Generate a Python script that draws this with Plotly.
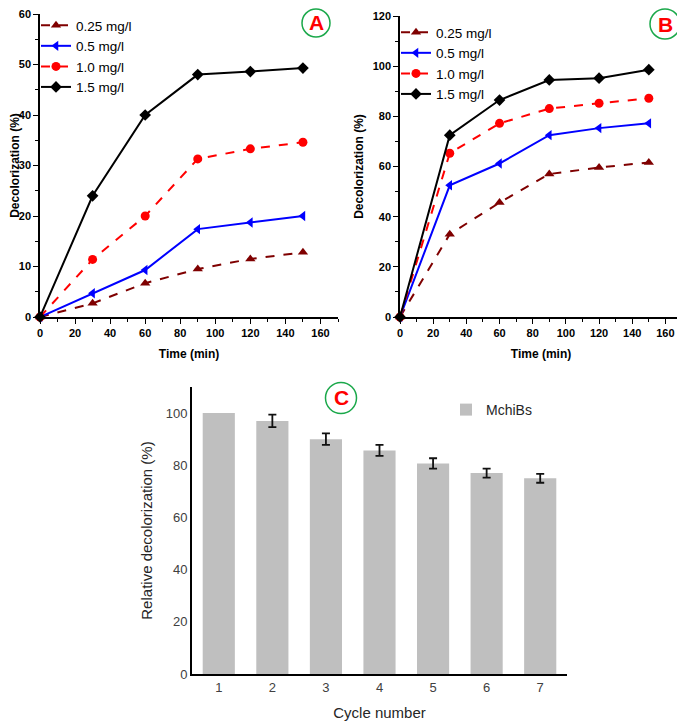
import plotly.graph_objects as go

# page body has an 8px margin: figure is sized to fit the window exactly
OFF = 8
W, H = 685 - OFF, 723 - OFF

time_min = [0, 30, 60, 90, 120, 150]
series_names = ["0.25 mg/l", "0.5 mg/l", "1.0 mg/l", "1.5 mg/l"]

a_025 = [0, 2.7, 6.7, 9.5, 11.5, 12.8]
a_05 = [0, 4.7, 9.3, 17.4, 18.7, 20.0]
a_10 = [0, 11.4, 20.0, 31.3, 33.3, 34.6]
a_15 = [0, 24.0, 40.0, 48.0, 48.6, 49.3]

b_025 = [0, 33.0, 45.6, 57.0, 59.6, 61.6]
b_05 = [0, 52.5, 61.2, 72.5, 75.3, 77.2]
b_10 = [0, 65.3, 77.2, 83.1, 85.2, 87.2]
b_15 = [0, 72.5, 86.5, 94.5, 95.2, 98.6]

cycles = [1, 2, 3, 4, 5, 6, 7]
relative = [100, 97.0, 90.0, 85.7, 80.7, 77.0, 75.0]
err_cycles = [2, 3, 4, 5, 6, 7]
err_values = [97.0, 90.0, 85.7, 80.7, 77.0, 75.0]
rel_err = [2.4, 2.2, 2.1, 2.0, 1.7, 1.7]

styles = [
    dict(color="#7f0000", dash="dash", symbol="triangle-up"),
    dict(color="#0000ff", dash="solid", symbol="triangle-left"),
    dict(color="#ff0000", dash="dash", symbol="circle"),
    dict(color="#000000", dash="solid", symbol="diamond"),
]

def px_x(p):
    return (p - OFF) / W

def px_y(p):
    return 1 - (p - OFF) / H

fig = go.Figure()

for data, xa, ya, leg in [((a_025, a_05, a_10, a_15), "x", "y", "legend"),
                          ((b_025, b_05, b_10, b_15), "x2", "y2", "legend2")]:
    for name, vals, st in zip(series_names, data, styles):
        fig.add_trace(go.Scatter(
            x=time_min, y=vals, name=name, xaxis=xa, yaxis=ya, legend=leg,
            mode="lines+markers", cliponaxis=False,
            line=dict(color=st["color"], dash=st["dash"], width=2),
            marker=dict(symbol=st["symbol"], size=9, color=st["color"]),
        ))

fig.add_trace(go.Bar(
    x=cycles, y=relative, name="MchiBs", xaxis="x3", yaxis="y3", legend="legend3",
    marker=dict(color="#bfbfbf", line=dict(width=0)), width=0.6,
))
fig.add_trace(go.Scatter(
    x=err_cycles, y=err_values, xaxis="x3", yaxis="y3", mode="markers",
    marker=dict(size=0.1, color="rgba(0,0,0,0)"), showlegend=False, hoverinfo="skip",
    error_y=dict(type="data", array=rel_err, color="#111111", thickness=1.8, width=4),
))

bold_tick = dict(family="Liberation Sans", size=11, color="black", weight="bold")
title_font = dict(family="Liberation Sans", size=12, color="black", weight="bold")

line_axis = dict(showline=True, linecolor="black", linewidth=1.5, ticks="outside",
                 ticklen=5, tickwidth=1.2, tickcolor="black", showgrid=False,
                 zeroline=False, mirror=False, tickfont=bold_tick, automargin=False,
                 ticklabeloverflow="allow")

fig.update_layout(
    width=W, height=H, margin=dict(l=0, r=0, t=0, b=0),
    paper_bgcolor="white", plot_bgcolor="white", showlegend=True,
    xaxis=dict(domain=[px_x(40), px_x(338)], range=[0, 170], anchor="y",
               tickvals=[0, 20, 40, 60, 80, 100, 120, 140, 160],
               minor=dict(ticklen=3, dtick=10, tick0=0, ticks="outside", tickcolor="black"),
               title=dict(text="Time (min)", font=title_font, standoff=12), **line_axis),
    yaxis=dict(domain=[px_y(317), px_y(14)], range=[0, 60], anchor="x",
               tickvals=[0, 10, 20, 30, 40, 50, 60],
               minor=dict(ticklen=3, dtick=5, tick0=0, ticks="outside", tickcolor="black"),
               title=dict(text="Decolorization (%)", font=title_font, standoff=6), **line_axis),
    xaxis2=dict(domain=[px_x(400), px_x(682)], range=[0, 170], anchor="y2",
                tickvals=[0, 20, 40, 60, 80, 100, 120, 140, 160],
                minor=dict(ticklen=3, dtick=10, tick0=0, ticks="outside", tickcolor="black"),
                title=dict(text="Time (min)", font=title_font, standoff=12), **line_axis),
    yaxis2=dict(domain=[px_y(317), px_y(16)], range=[0, 120], anchor="x2",
                tickvals=[0, 20, 40, 60, 80, 100, 120],
                minor=dict(ticklen=3, dtick=10, tick0=0, ticks="outside", tickcolor="black"),
                title=dict(text="Decolorization (%)", font=title_font, standoff=6), **line_axis),
    xaxis3=dict(domain=[px_x(192), px_x(567)], range=[0.5, 7.5], anchor="y3",
                tickvals=cycles, showline=True, linecolor="black", linewidth=2,
                ticks="", showgrid=False, zeroline=False, automargin=False,
                tickfont=dict(family="Liberation Sans", size=13, color="#404040"),
                title=dict(text="Cycle number", font=dict(family="Liberation Sans", size=15, color="#262626"), standoff=14)),
    yaxis3=dict(domain=[px_y(674), px_y(387)], range=[0, 110], anchor="x3",
                tickvals=[0, 20, 40, 60, 80, 100], showline=True, linecolor="black", linewidth=2,
                ticks="", showgrid=False, zeroline=False, automargin=False,
                tickfont=dict(family="Liberation Sans", size=13, color="#404040"),
                title=dict(text="Relative decolorization (%)", font=dict(family="Liberation Sans", size=15, color="#262626"), standoff=9)),
    legend=dict(x=px_x(36), y=px_y(10), xanchor="left", yanchor="top",
                bgcolor="rgba(0,0,0,0)", font=dict(family="Liberation Sans", size=13.5, color="black"),
                tracegroupgap=0, itemwidth=30),
    legend2=dict(x=px_x(396), y=px_y(17), xanchor="left", yanchor="top",
                 bgcolor="rgba(0,0,0,0)", font=dict(family="Liberation Sans", size=13.5, color="black"),
                 tracegroupgap=0, itemwidth=30),
    legend3=dict(x=px_x(446), y=px_y(394), xanchor="left", yanchor="top",
                 bgcolor="rgba(0,0,0,0)", font=dict(family="Liberation Sans", size=14, color="#262626")),
)

labels = [("A", 316, 23, 14), ("B", 665, 24, 15), ("C", 341, 398, 15.5)]
for txt, cx, cy, r in labels:
    fig.add_shape(type="circle", xref="paper", yref="paper",
                  x0=px_x(cx - r), x1=px_x(cx + r), y0=px_y(cy + r), y1=px_y(cy - r),
                  line=dict(color="#1aa84a", width=1.5), fillcolor="white")
    fig.add_annotation(text=txt, x=px_x(cx), y=px_y(cy), xref="paper", yref="paper",
                       showarrow=False, xanchor="center", yanchor="middle",
                       font=dict(family="Liberation Sans", size=21, color="#ff0000", weight="bold"))

fig.write_html("out.html")
